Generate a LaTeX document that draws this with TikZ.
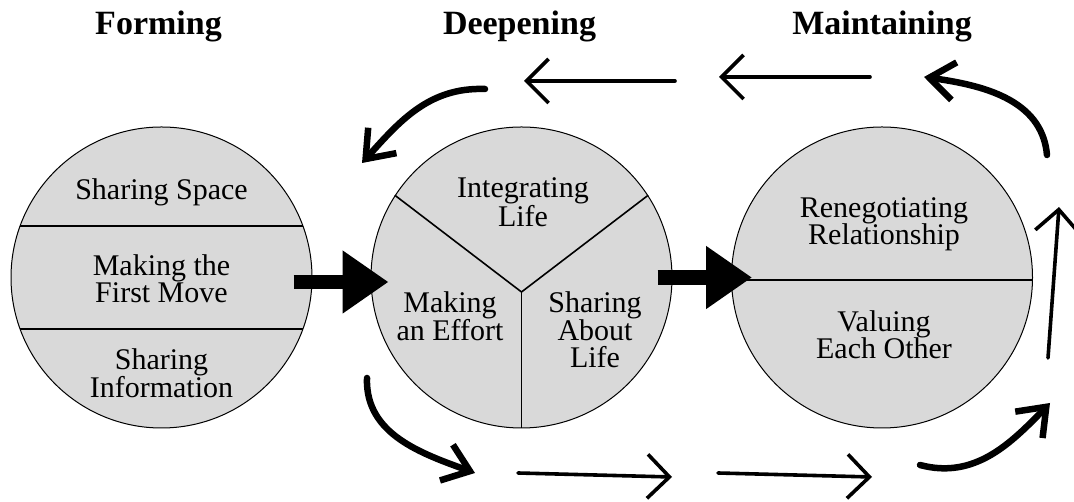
\documentclass[tikz,border=0pt]{standalone}
\usepackage{fontspec}
\setmainfont{Liberation Serif}
\usetikzlibrary{arrows.meta}

\begin{document}
\begin{tikzpicture}[x=1pt, y=1pt]
		\tikzstyle{Stage}	= [circle, draw, line width=1pt, fill=black!15, minimum size=301pt, inner sep=0pt]
		\tikzstyle{Title}	= [anchor=base, font=\fontsize{34}{40}\selectfont\bfseries]
		\tikzstyle{Part}	= [align=center, inner sep=0pt, font=\fontsize{30}{27.5}\selectfont]
		\tikzstyle{Split}	= [line width=1.6pt]
		\tikzstyle{Push}	= [-{Triangle[length=46pt, width=60pt]}, line width=14.5pt]
		\tikzstyle{Thin}	= [-{Straight Barb[length=22pt, width=44pt]}, line width=3.6pt, line cap=round]
		\tikzstyle{Thick}	= [-{Straight Barb[length=25pt, width=38pt]}, line width=6.5pt, line cap=round]

		\useasboundingbox (0,0) rectangle (1074,502);

		% the three stages
		\node (form) at (161.5, 224.5) [Stage] {};
		\node (deep) at (521.5, 224.5) [Stage] {};
		\node (main) at (882, 224.5) [Stage] {};

		\node (tform) at (158.5, 467) [Title] {Forming};
		\node (tdeep) at (519.5, 467) [Title] {Deepening};
		\node (tmain) at (882, 467) [Title] {Maintaining};

		% parts of each stage
		\draw [Split] (form.160) -- (form.20);
		\draw [Split] (form.200) -- (form.-20);
		\coordinate (hub) at (521.5, 210);
		\draw [Split] (deep.147) -- (hub) -- (deep.33);
		\draw [Split] (hub) -- (deep.south);
		\draw [Split] (main.181) -- (main.-1);

		\node (p1) at (161.5, 302) [Part, anchor=base] {Sharing Space};
		\node (p2) at (161.5, 223.5) [Part] {Making the\\First Move};
		\node (p3) at (161.5, 128.7) [Part] {Sharing\\Information};
		\node (p4) at (523, 299.7) [Part] {Integrating\\Life};
		\node (p5) at (450, 185.7) [Part] {Making\\an Effort};
		\node (p6) at (595, 172.2) [Part] {Sharing\\About\\Life};
		\node (p7) at (884, 277.5) [Part] {Renegotiating\\Relationship};
		\node (p8) at (884, 167.2) [Part] {Valuing\\Each Other};

		% moving on
		\draw [Push] ([shift={(-19,-4.5)}]form.east) to ([shift={(18,-4.5)}]deep.west);
		\draw [Push] ([shift={(-15,0)}]deep.east) to ([shift={(21,0)}]main.west);

		% the cycle round the stages
		\coordinate (a1) at (1047, 347);	\coordinate (a2) at (924, 425);
		\coordinate (b1) at (870, 425);		\coordinate (b2) at (719, 425);
		\coordinate (c1) at (675, 421);		\coordinate (c2) at (524, 421);
		\coordinate (d1) at (485, 413);		\coordinate (d2) at (362, 339);
		\coordinate (e1) at (367, 124);		\coordinate (e2) at (475, 29);
		\coordinate (f1) at (518, 29);		\coordinate (f2) at (672, 25);
		\coordinate (g1) at (718, 29);		\coordinate (g2) at (872, 25);
		\coordinate (h1) at (920, 37);		\coordinate (h2) at (1050, 99);
		\coordinate (i1) at (1048, 144);	\coordinate (i2) at (1059, 295);

		\draw [Thick] (a1) to[out=95, in=-8] (a2);
		\draw [Thin] (b1) to (b2);
		\draw [Thin] (c1) to (c2);
		\draw [Thick] (d1) to[out=178, in=48] (d2);
		\draw [Thick] (e1) to[out=-92, in=160] (e2);
		\draw [Thin] (f1) to (f2);
		\draw [Thin] (g1) to (g2);
		\draw [Thick] (h1) to[out=-15, in=226] (h2);
		\draw [Thin] (i1) to (i2);
	\end{tikzpicture}
\end{document}
